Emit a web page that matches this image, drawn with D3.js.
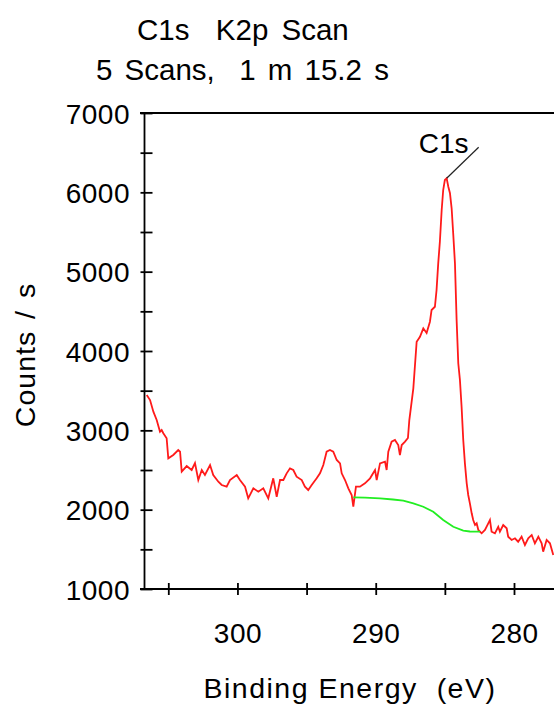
<!DOCTYPE html>
<html>
<head>
<meta charset="utf-8">
<script src="https://cdn.jsdelivr.net/npm/d3@7"></script>
<style>
  html, body { margin: 0; padding: 0; background: #fff; }
  svg { display: block; }
  text { font-family: "Liberation Sans", Arial, sans-serif; fill: #000; white-space: pre; }
</style>
</head>
<body>
<svg id="chart" width="554" height="709"></svg>
<script>
// ---- data ----
const titleLines = ["C1s  K2p Scan", "5 Scans,  1 m 15.2 s"];
const xLabel = "Binding Energy  (eV)";
const yLabel = "Counts / s";
const peakLabel = "C1s";
const peakEnergy = 284.87;
const peakCounts = 6177;

const xMajorTicks = [300, 290, 280];
const xMinorTicks = [305, 295, 285];
const yMajorTicks = [1000, 2000, 3000, 4000, 5000, 6000, 7000];
const yMinorTicks = [1500, 2500, 3500, 4500, 5500, 6500];

const energy = [306.56,306.32,306.08,305.84,305.60,305.48,305.36,305.12,305.00,304.64,304.28,304.15,304.03,303.67,303.31,303.07,302.83,302.58,302.35,301.98,301.75,301.38,301.14,300.78,300.54,300.05,299.82,299.45,299.22,298.85,298.49,298.13,297.77,297.41,297.16,296.92,296.68,296.44,296.20,295.96,295.72,295.35,295.12,294.88,294.63,294.27,294.03,293.79,293.55,293.31,293.07,292.82,292.58,292.46,292.22,291.98,291.74,291.62,291.43,291.14,290.78,290.41,290.05,289.93,289.69,289.33,289.21,289.09,288.85,288.61,288.37,288.25,288.12,287.88,287.67,287.57,287.28,287.04,286.80,286.56,286.32,286.08,285.96,285.72,285.60,285.48,285.36,285.23,285.12,285.00,284.87,284.75,284.63,284.51,284.39,284.27,284.15,284.03,283.91,283.79,283.67,283.55,283.42,283.31,283.19,283.06,282.95,282.82,282.70,282.58,282.34,282.10,281.86,281.74,281.62,281.38,281.14,281.02,280.78,280.53,280.42,280.17,279.93,279.70,279.45,279.21,278.97,278.72,278.49,278.24,278.00,277.89,277.64,277.40,277.16];
const counts = [3445,3382,3235,3130,2983,3004,2963,2900,2647,2689,2752,2731,2479,2550,2500,2588,2374,2500,2437,2563,2437,2352,2311,2290,2374,2437,2374,2290,2143,2269,2226,2269,2143,2395,2163,2374,2374,2458,2521,2500,2416,2374,2290,2248,2311,2395,2458,2563,2731,2752,2731,2626,2584,2458,2374,2269,2185,2037,2290,2290,2332,2395,2500,2374,2584,2605,2500,2731,2857,2878,2815,2689,2815,2857,2903,3130,3530,4117,4180,4286,4227,4369,4517,4558,4769,5105,5378,5777,6029,6155,6177,6071,5988,5799,5462,5105,4391,3845,3634,3298,2878,2584,2332,2185,2080,1954,1870,1807,1828,1744,1702,1744,1828,1870,1722,1702,1785,1722,1807,1765,1659,1618,1639,1596,1659,1555,1639,1681,1576,1659,1576,1470,1618,1576,1429];

const bgEnergy = [291.62,290.78,289.69,288.75,288.01,287.28,286.56,285.84,285.12,284.39,283.67,283.19,282.46];
const bgCounts = [2156,2153,2143,2128,2113,2080,2037,1974,1870,1785,1735,1725,1722];

// ---- layout ----
const svg = d3.select("#chart");
const axisX = 144.5, axisTop = 113, axisBottom = 589, rightEdge = 560;
const x = d3.scaleLinear().domain([305, 280]).range([168.3, 514]);
const y = d3.scaleLinear().domain([1000, 7000]).range([axisBottom, axisTop]);
const font = '"Liberation Sans", Arial, sans-serif';

svg.append("defs").append("clipPath").attr("id", "plotclip")
  .append("rect").attr("x", axisX).attr("y", axisTop - 2)
  .attr("width", rightEdge - axisX).attr("height", axisBottom - axisTop + 4);

// titles
svg.append("text").attr("x", 137).attr("y", 40).attr("font-size", 29.5)
  .attr("word-spacing", 5).text(titleLines[0]);
svg.append("text").attr("x", 96).attr("y", 80).attr("font-size", 29.5)
  .attr("word-spacing", 4).text(titleLines[1]);

// frame lines
svg.append("line").attr("x1", axisX).attr("x2", axisX).attr("y1", axisTop).attr("y2", axisBottom)
  .attr("stroke", "#000").attr("stroke-width", 1.8);
svg.append("line").attr("x1", 140).attr("x2", rightEdge).attr("y1", axisBottom).attr("y2", axisBottom)
  .attr("stroke", "#000").attr("stroke-width", 1.8);
svg.append("line").attr("x1", 140).attr("x2", rightEdge).attr("y1", axisTop).attr("y2", axisTop)
  .attr("stroke", "#000").attr("stroke-width", 1.8);

// y axis (major with labels)
const gY = svg.append("g").attr("transform", `translate(${axisX},0)`)
  .call(d3.axisLeft(y).tickValues(yMajorTicks).tickFormat(d3.format("d"))
    .tickSize(4).tickSizeOuter(0).tickPadding(10.5));
const gYm = svg.append("g").attr("transform", `translate(${axisX},0)`)
  .call(d3.axisLeft(y).tickValues(yMinorTicks).tickFormat("").tickSize(4).tickSizeOuter(0));
[gY, gYm].forEach(g => {
  g.select(".domain").remove();
  g.selectAll(".tick line").attr("x1", 8).attr("stroke", "#000").attr("stroke-width", 1.8);
});
gY.selectAll(".tick text").attr("font-size", 28).attr("font-family", font).attr("fill", "#000")
  .attr("dy", "0.36em").attr("letter-spacing", 0.5);

// x axis
const gX = svg.append("g").attr("transform", `translate(0,${axisBottom})`)
  .call(d3.axisBottom(x).tickValues(xMajorTicks).tickFormat(d3.format("d")).tickSize(6).tickSizeOuter(0));
const gXm = svg.append("g").attr("transform", `translate(0,${axisBottom})`)
  .call(d3.axisBottom(x).tickValues(xMinorTicks).tickFormat("").tickSize(6).tickSizeOuter(0));
[gX, gXm].forEach(g => {
  g.select(".domain").remove();
  g.selectAll(".tick line").attr("y1", -6).attr("stroke", "#000").attr("stroke-width", 1.8);
});
gX.selectAll(".tick text").attr("font-size", 28).attr("font-family", font).attr("fill", "#000")
  .attr("y", 54).attr("dy", 0).attr("letter-spacing", 0.5);

// axis titles
svg.append("text").attr("x", 350).attr("y", 698).attr("text-anchor", "middle")
  .attr("font-size", 28.5).attr("letter-spacing", 1.5).text(xLabel);
svg.append("text").attr("transform", "translate(35,355) rotate(-90)").attr("text-anchor", "middle")
  .attr("font-size", 28.5).attr("letter-spacing", 1).attr("word-spacing", 3).text(yLabel);

// data lines
const plot = svg.append("g").attr("clip-path", "url(#plotclip)");
const line = d3.line().x(d => x(d[0])).y(d => y(d[1]));
plot.append("path").datum(energy.map((e, i) => [e, counts[i]]))
  .attr("d", line).attr("fill", "none").attr("stroke", "#ff1a1a").attr("stroke-width", 1.8)
  .attr("stroke-linejoin", "miter");
plot.append("path").datum(bgEnergy.map((e, i) => [e, bgCounts[i]]))
  .attr("d", line).attr("fill", "none").attr("stroke", "#22ee22").attr("stroke-width", 1.8);

// peak annotation
const px = x(peakEnergy), py = y(peakCounts);
svg.append("line").attr("x1", px).attr("y1", py).attr("x2", px + 32).attr("y2", py - 31)
  .attr("stroke", "#222").attr("stroke-width", 1.2);
svg.append("text").attr("x", px - 28).attr("y", py - 25).attr("font-size", 28).text(peakLabel);
</script>
</body>
</html>
